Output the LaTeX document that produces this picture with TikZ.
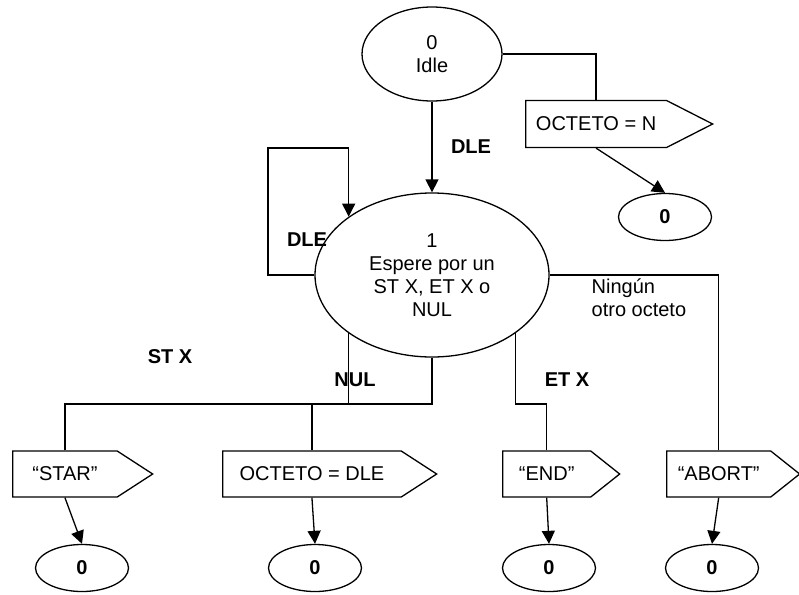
\documentclass[tikz,border=0pt]{standalone}
\usepackage{fontspec}
\setmainfont{Liberation Sans}
\usepackage{tikz}
\usetikzlibrary{arrows.meta,shapes.geometric,shapes.symbols}
\newcommand\dgfont{\fontsize{20}{23}\selectfont}

\begin{document}
\begin{tikzpicture}[x=1pt,y=-1pt,line width=1.3pt,
  every node/.style={font=\dgfont},
  state/.style={ellipse,draw,inner sep=2pt,align=center},
  zero/.style={ellipse,draw,minimum width=93pt,minimum height=47pt,font=\dgfont\bfseries},
  msgbox/.style={signal,signal to=east,signal pointer angle=66,draw,minimum height=46pt,inner sep=2pt,anchor=west},
  lbl/.style={font=\dgfont\bfseries,inner sep=0pt},
  flow/.style={-{Triangle[length=13pt,width=13pt]}}]
  \useasboundingbox (0,0) rectangle (799,594);
  \node[state,minimum width=140pt,minimum height=94pt] (idle) at (432,54) {0\\Idle};
  \node[state,minimum width=234pt,minimum height=164pt] (wait) at (432,275) {1\\Espere por un\\ST X, ET X o\\NUL};
  \node[msgbox,signal pointer angle=54,minimum width=187pt,minimum height=47pt] (octn) at (525,124) {OCTETO = N};
  \node[zero] (zn) at (665,217) {0};
  \node[msgbox,minimum width=140pt] (star) at (12,474) {“STAR”};
  \node[msgbox,minimum width=214pt] (octdle) at (222,474) {OCTETO = DLE};
  \node[msgbox,signal pointer angle=77,minimum width=117pt] (endb) at (502,474) {“END”};
  \node[msgbox,signal pointer angle=77,minimum width=133pt] (abort) at (666,474) {“ABORT”};
  \node[zero] (z1) at (82,568) {0};
  \node[zero] (z2) at (315,568) {0};
  \node[zero] (z3) at (549,568) {0};
  \node[zero] (z4) at (712,568) {0};
  \coordinate (loopc) at (268,148);
  \coordinate (bus) at (0,404);
  \draw[flow] (idle.south) -- (wait.north);
  \draw (idle.east) -| (octn.north);
  \draw[flow] (octn.south) -- (zn.north);
  \draw[flow] (wait.west) -| (loopc) -| (wait.145);
  \draw (wait.south) -- (wait.south |- bus) -| (star.north);
  \draw (wait.215) -- (wait.215 |- bus);
  \draw (octdle.north) -- (octdle.north |- bus);
  \draw (wait.325) -- (wait.325 |- bus) -| (endb.north);
  \draw (wait.east) -| (abort.north);
  \draw[flow] (star.south) -- (z1.north);
  \draw[flow] (octdle.south) -- (z2.north);
  \draw[flow] (endb.south) -- (z3.north);
  \draw[flow] (abort.south) -- (z4.north);
  \node[lbl] (ldle) at (471,147) {DLE};
  \node[lbl] (lloop) at (307,240) {DLE};
  \node[lbl] (lstx) at (170,357) {ST X};
  \node[lbl] (lnul) at (355,380) {NUL};
  \node[lbl] (letx) at (567,380) {ET X};
  \node[inner sep=0pt,align=left,anchor=west] (lotro) at (591,298) {Ningún\\otro octeto};
\end{tikzpicture}
\end{document}
